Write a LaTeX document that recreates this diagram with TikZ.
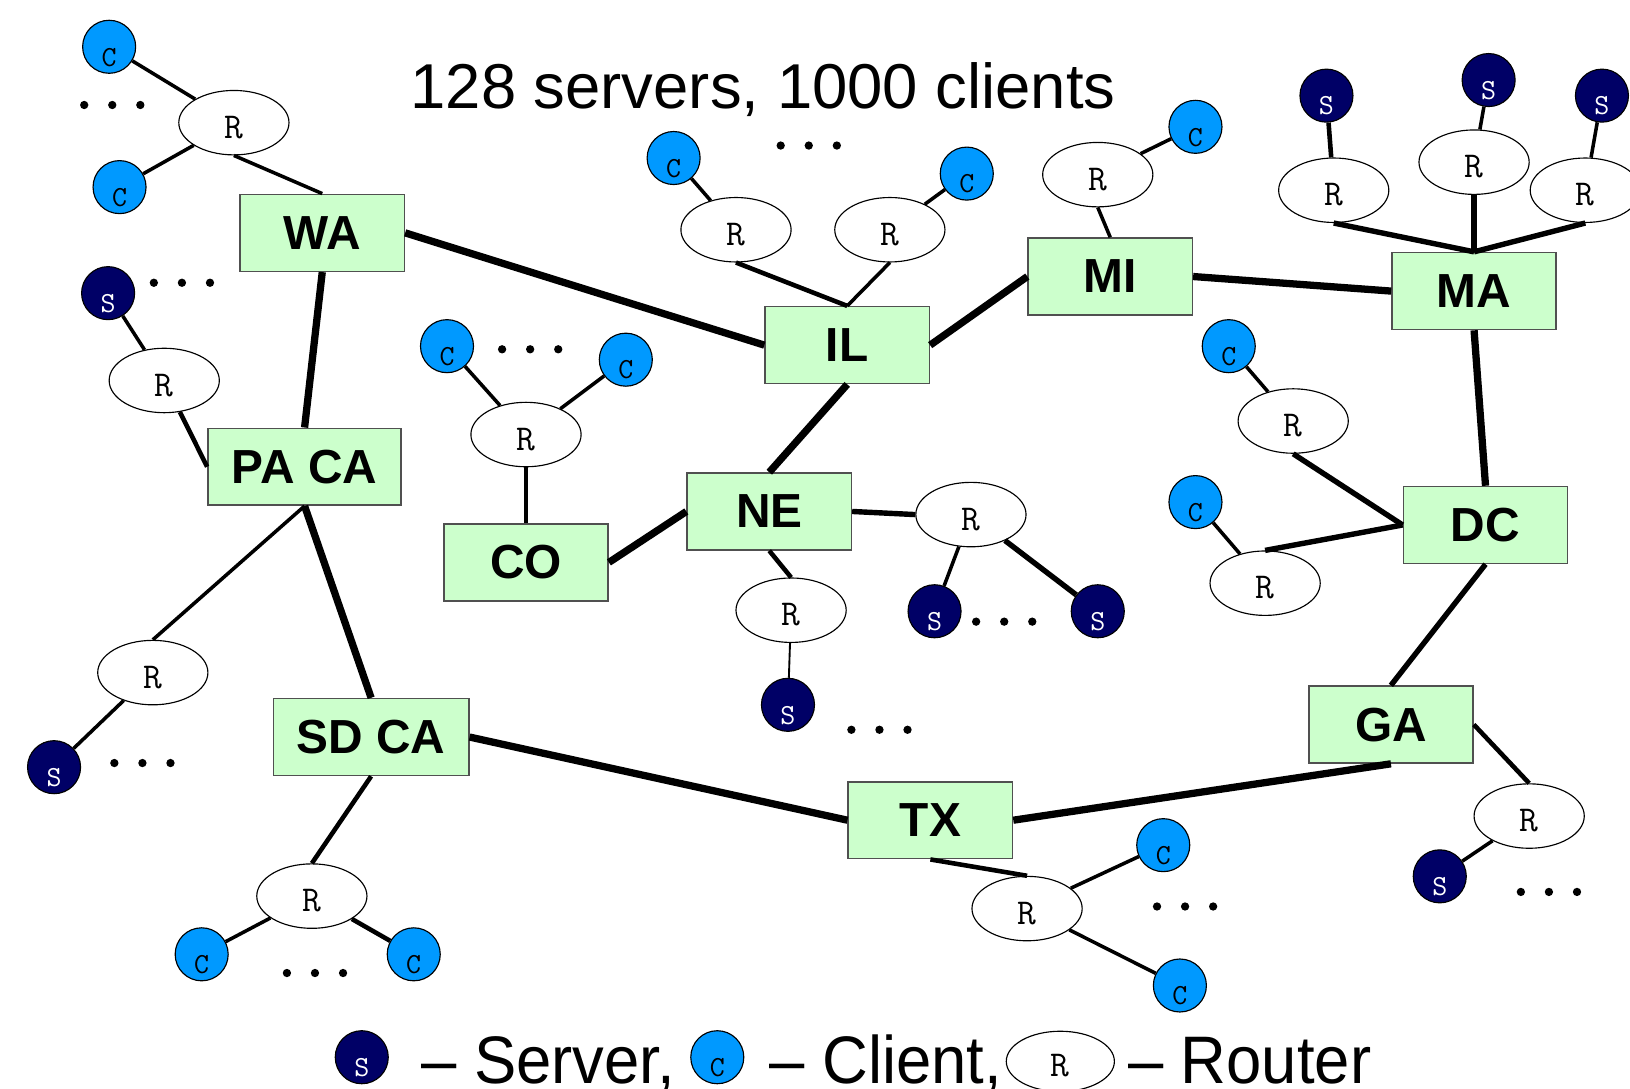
\documentclass[tikz,border=0pt]{standalone}
\usepackage{fontspec}
\usepackage{graphicx}
\usetikzlibrary{shapes.geometric}
\newfontfamily\arialf{Liberation Sans}
\definecolor{cli}{HTML}{0099FF}
\definecolor{srv}{HTML}{000066}
\definecolor{boxg}{HTML}{CCFFCC}
\definecolor{boxb}{HTML}{505050}
\newcommand\RL{\raisebox{-15pt}[0pt][0pt]{R}}
\newcommand\CL{\raisebox{-18.5pt}[0pt][0pt]{C}}
\newcommand\SL{\raisebox{-18.5pt}[0pt][0pt]{S}}
\begin{document}
\begin{tikzpicture}[x=1pt,y=-1pt,
 st/.style={rectangle, draw=boxb, line width=1.5pt, fill=boxg, minimum width=158pt, minimum height=74pt, inner sep=0pt, font=\arialf\bfseries\fontsize{46}{46}\selectfont},
 rt/.style={ellipse, draw, line width=1.1pt, fill=white, minimum width=106pt, minimum height=62pt, inner sep=0pt, font=\ttfamily\fontsize{35}{35}\selectfont},
 cl/.style={circle, draw, line width=1.1pt, fill=cli, minimum size=51pt, inner sep=0pt, font=\ttfamily\fontsize{28}{28}\selectfont},
 sv/.style={cl, fill=srv, text=white},
 bb/.style={line width=7pt},
 lk/.style={line width=5.2pt},
 tl/.style={line width=4.4pt},
 th/.style={line width=3.4pt},
 hl/.style={line width=1.8pt},
 dot/.style={circle, fill, inner sep=0pt, minimum size=8pt},
 txt/.style={inner sep=0pt, font=\arialf\fontsize{61}{61}\selectfont}
]
\useasboundingbox (0,0) rectangle (1568,1047);
\clip (0,0) rectangle (1568,1047);

% title
\node[txt, anchor=base] (title) at (734,104) {128 servers, 1000 clients};

% backbone boxes
\node[st] (WA) at (310,224) {WA};
\node[st] (IL) at (815,332) {IL};
\node[st] (MI) at (1068,266) {MI};
\node[st] (MA) at (1418,280) {MA};
\node[st, minimum width=186pt] (PA) at (293,449) {PA CA};
\node[st] (CO) at (506,541) {CO};
\node[st] (NE) at (740,492) {NE};
\node[st] (DC) at (1429,505) {DC};
\node[st] (GA) at (1338,697) {GA};
\node[st, minimum width=188pt] (SD) at (357,709) {SD CA};
\node[st] (TX) at (895,789) {TX};

% routers
\node[rt] (r1) at (225,118) {\RL};
\node[rt] (r2) at (158,366) {\RL};
\node[rt] (r3) at (506,418) {\RL};
\node[rt] (r4) at (708,221) {\RL};
\node[rt] (r5) at (856,221) {\RL};
\node[rt] (r6) at (1056,168) {\RL};
\node[rt] (r7) at (1283,183) {\RL};
\node[rt] (r8) at (1418,156) {\RL};
\node[rt] (r9) at (1525,183) {\RL};
\node[rt] (r10) at (1244,405) {\RL};
\node[rt] (r11) at (1217,561) {\RL};
\node[rt] (r12) at (934,495) {\RL};
\node[rt] (r13) at (761,587) {\RL};
\node[rt] (r14) at (147,647) {\RL};
\node[rt] (r15) at (300,862) {\RL};
\node[rt] (r16) at (988,874) {\RL};
\node[rt] (r17) at (1471,785) {\RL};

% clients
\node[cl] (c1) at (105,45) {\CL};
\node[cl] (c2) at (115,180) {\CL};
\node[cl] (c3) at (648,152) {\CL};
\node[cl] (c4) at (930,167) {\CL};
\node[cl] (c5) at (1150,122) {\CL};
\node[cl] (c6) at (430,333) {\CL};
\node[cl] (c7) at (602,346) {\CL};
\node[cl] (c8) at (1182,333) {\CL};
\node[cl] (c9) at (1150,483) {\CL};
\node[cl] (c10) at (194,918) {\CL};
\node[cl] (c11) at (398,918) {\CL};
\node[cl] (c12) at (1119,813) {\CL};
\node[cl] (c13) at (1135,948) {\CL};

% servers
\node[sv] (s1) at (104,282) {\SL};
\node[sv] (s2) at (1276,92) {\SL};
\node[sv] (s3) at (1432,77) {\SL};
\node[sv] (s4) at (1541,92) {\SL};
\node[sv] (s5) at (899,588) {\SL};
\node[sv] (s6) at (1056,588) {\SL};
\node[sv] (s7) at (758,678) {\SL};
\node[sv] (s8) at (52,738) {\SL};
\node[sv] (s9) at (1385,843) {\SL};

\begin{scope}[line cap=butt]
% backbone
\draw[bb] (WA.east) -- (IL.west);
\draw[bb] (WA.south) -- (PA.north);
\draw[bb] (IL.east) -- (MI.west);
\draw[bb] (MI.east) -- (MA.west);
\draw[bb] (IL.south) -- (NE.north);
\draw[bb] (NE.west) -- (CO.east);
\draw[bb] (PA.south) -- (SD.north);
\draw[bb] (MA.south) -- (DC.north);
\draw[lk] (DC.south) -- (GA.north);
\draw[bb] (GA.south) -- (TX.east);
\draw[bb] (SD.east) -- (TX.west);
% router to box
\draw[th] (r1.south) -- (WA.north);
\draw[tl] (r2) -- (PA.west);
\draw[th] (r3.south) -- (CO.north);
\draw[tl] (r4.south) -- (IL.north);
\draw[th] (r5.south) -- (IL.north);
\draw[th] (r6.south) -- (MI.north);
\draw[lk] (r7.south) -- (MA.north);
\draw[lk] (r8.south) -- (MA.north);
\draw[lk] (r9.south) -- (MA.north);
\draw[lk] (r10.south) -- (DC.west);
\draw[lk] (r11.north) -- (DC.west);
\draw[lk] (NE.east) -- (r12.west);
\draw[tl] (NE.south) -- (r13.north);
\draw[th] (PA.south) -- (r14.north);
\draw[tl] (SD.south) -- (r15.north);
\draw[tl] (TX.south) -- (r16.north);
\draw[tl] (GA.east) -- (r17.north);
% router to host
\draw[th] (r1) -- (c1);
\draw[th] (r1) -- (c2);
\draw[th] (r2) -- (s1);
\draw[th] (r3) -- (c6);
\draw[th] (r3) -- (c7);
\draw[th] (r4) -- (c3);
\draw[th] (r5) -- (c4);
\draw[th] (r6) -- (c5);
\draw[tl] (r7) -- (s2);
\draw[th] (r8) -- (s3);
\draw[th] (r9) -- (s4);
\draw[th] (r10) -- (c8);
\draw[th] (r11) -- (c9);
\draw[th] (r12) -- (s5);
\draw[lk] (r12) -- (s6);
\draw[hl] (r13) -- (s7);
\draw[th] (r14) -- (s8);
\draw[th] (r15) -- (c10);
\draw[tl] (r15) -- (c11);
\draw[th] (r16) -- (c12);
\draw[th] (r16) -- (c13);
\draw[th] (r17) -- (s9);
\end{scope}

% ellipsis dots
\foreach \n/\x/\y in {a/108/101, b/175/272, c/778/140, d/510/336, e/966/598, f/846/702, g/137/734, h/303/936, i/1140/872, j/1490/858}{
  \node[dot] (dm\n) at (\x,\y) {};
  \node[dot] (dl\n) at (\x-27,\y) {};
  \node[dot] (dr\n) at (\x+27,\y) {};
}

% legend
\node[sv] (ls) at (348,1017) {\SL};
\node[txt, anchor=base west] (lst) at (405,1042) {\scalebox{1}[1.06]{– Server,}};
\node[cl] (lc) at (690,1017) {\CL};
\node[txt, anchor=base west] (lct) at (740,1042) {\scalebox{1}[1.06]{– Client,}};
\node[rt, minimum width=104pt, minimum height=58pt] (lr) at (1020,1021) {\RL};
\node[txt, anchor=base west] (lrt) at (1085,1042) {\scalebox{1}[1.06]{– Router}};
\end{tikzpicture}
\end{document}
